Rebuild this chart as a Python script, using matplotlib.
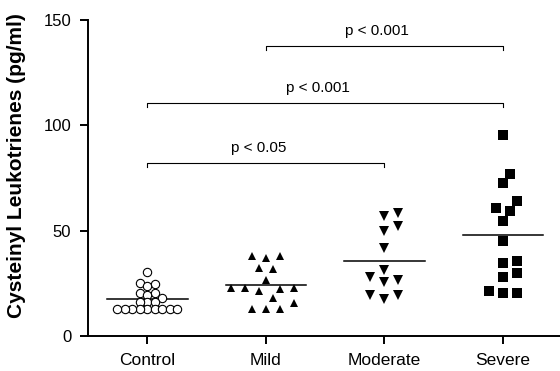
import numpy as np
import matplotlib.pyplot as plt

plt.rcParams['font.family'] = ['Liberation Sans', 'DejaVu Sans']

groups = ["Control", "Mild", "Moderate", "Severe"]

control = [30.5, 25, 24.5, 23.5, 20.5, 20.5, 19.5, 18, 16, 16, 16,
           13, 13, 13, 13, 13, 13, 13, 13, 13]
mild = [38.1, 37.2, 38.1, 31.8, 32.1, 26.6, 22.6, 22.2, 21.5, 22.6, 22.6,
        17.9, 12.8, 12.8, 12.8, 15.5]
moderate = [58.2, 57.1, 52.2, 50, 41.6, 31.3, 26.6, 25.8, 27.9, 19.5, 17.6, 19.5]
severe = [95.4, 76.8, 72.5, 64.2, 60.6, 59.5, 54.7, 45.1, 34.8, 35.6, 30,
          27.9, 21.5, 20.3, 20.5]

# comparisons: (group a, group b, bracket height, label)
comp_a = [0, 0, 1]
comp_b = [2, 3, 3]
comp_h = [82, 110.7, 137.6]
comp_lab = ["p < 0.05", "p < 0.001", "p < 0.001"]

fig = plt.figure(figsize=(5.6, 3.71), dpi=100)
ax = fig.add_axes([88 / 560, 35 / 371, 472 / 560, 316 / 371])
ax.set_xlim(-0.5, 3.48)
ax.set_ylim(0, 150)

# pixel scales, used to spread points sideways like a dot plot
px_x = 472 / 3.98
px_y = 316 / 150


def swarm(vals, min_dist, step):
    vals = np.asarray(vals, dtype=float)
    out = np.zeros(len(vals))
    placed = []
    slots = [0] + [s * k for k in range(1, 15) for s in (1, -1)]
    for i in np.argsort(vals, kind="stable"):
        y = vals[i] * px_y
        for k in slots:
            x = k * step
            if all((x - a) ** 2 + (y - b) ** 2 >= min_dist ** 2 for a, b in placed):
                break
        placed.append((x, y))
        out[i] = x / px_x
    return out


data = [control, mild, moderate, severe]
marks = [dict(marker="o", ms=6, mfc="white", mec="black", mew=0.8),
         dict(marker="^", ms=6, mfc="black", mec="black", mew=0),
         dict(marker="v", ms=6.5, mfc="black", mec="black", mew=0),
         dict(marker="s", ms=6.8, mfc="black", mec="black", mew=0)]
dists = [6, 11, 11, 11]
steps = [7.5, 7, 7, 7]

for i, vals in enumerate(data):
    xo = swarm(vals, dists[i], steps[i])
    ax.plot(i + xo, vals, linestyle="none", zorder=3, **marks[i])
    m = np.mean(vals)
    ax.plot([i - 0.34, i + 0.34], [m, m], color="black", lw=1.1, zorder=2)

for a, b, h, lab in zip(comp_a, comp_b, comp_h, comp_lab):
    ax.plot([a, a, b, b], [h - 2, h, h, h - 2], color="black", lw=0.8)
    ax.text((a + b) / 2 - 0.06, h + 3.8, lab, ha="center", va="bottom", fontsize=11)

ax.set_xticks(range(4))
ax.set_xticklabels(groups, fontsize=12.5)
ax.set_yticks([0, 50, 100, 150])
ax.tick_params(axis="y", labelsize=12, length=6, width=1.4, pad=6)
ax.tick_params(axis="x", length=6, width=1.4, pad=6)
ax.spines["top"].set_visible(False)
ax.spines["right"].set_visible(False)
ax.spines["left"].set_linewidth(1.4)
ax.spines["bottom"].set_linewidth(1.4)

ax.set_ylabel("Cysteinyl Leukotrienes (pg/ml)", fontsize=15, fontweight="bold")
ax.yaxis.set_label_coords(-0.131, 0.538)

fig.savefig("out.png", dpi=100)
